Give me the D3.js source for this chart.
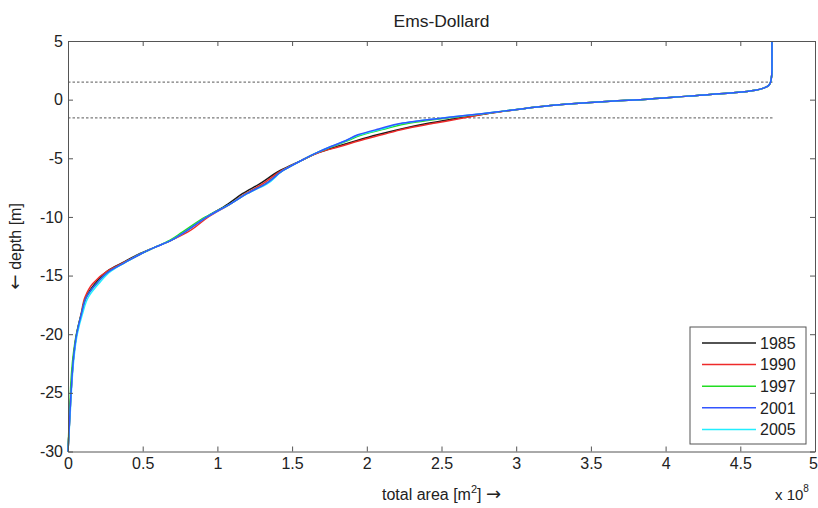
<!DOCTYPE html>
<html>
<head>
<meta charset="utf-8">
<script src="https://cdn.jsdelivr.net/npm/d3@7"></script>
<style>
  body { margin: 0; background: #fff; }
  svg { display: block; font-family: "Liberation Sans", Arial, sans-serif; }
  .axis path, .axis line { stroke: #555; }
  .axis text { fill: #222; font-size: 16px; }
  .arrow { font-family: "DejaVu Sans", sans-serif; }
</style>
</head>
<body>
<div id="chart"></div>
<script>
const years = ["1985", "1990", "1997", "2001", "2005"];
const colors = ["#1a1a1a", "#ee2a2a", "#22dd22", "#3355ff", "#22eeff"];

// depth levels [m] shared by all years
const depth = [-30, -28, -26, -24, -22, -20, -18.25, -16.8, -15.7, -14.6, -13.9, -13.2, -12.6, -12, -11.3, -10, -8.9, -8, -7.2, -6.04, -5.2, -4.5, -4, -3.5, -3, -2.5, -2, -1.5, -1.2, -1, -0.75, -0.5, -0.3, -0.1, 0, 0.3, 0.6, 0.8, 1, 1.2, 1.6, 2.5, 5];

// total area below depth, x 10^8 m2
const area1985 = [0, 0.008, 0.016, 0.025, 0.037, 0.058, 0.09, 0.122, 0.18, 0.265, 0.365, 0.47, 0.58, 0.69, 0.78, 0.93, 1.07, 1.17, 1.28, 1.42, 1.56, 1.68, 1.8, 1.93, 2.07, 2.23, 2.42, 2.65, 2.8, 2.91, 3.06, 3.23, 3.42, 3.68, 3.83, 4.15, 4.47, 4.6, 4.66, 4.69, 4.705, 4.712, 4.712];
const area1990 = [0, 0.008, 0.016, 0.025, 0.037, 0.058, 0.088, 0.115, 0.165, 0.265, 0.37, 0.48, 0.58, 0.69, 0.8, 0.94, 1.085, 1.19, 1.3, 1.43, 1.56, 1.68, 1.82, 1.95, 2.1, 2.25, 2.46, 2.67, 2.8, 2.91, 3.06, 3.23, 3.42, 3.68, 3.83, 4.15, 4.47, 4.6, 4.66, 4.69, 4.705, 4.712, 4.712];
const area1997 = [0, 0.006, 0.013, 0.02, 0.033, 0.056, 0.09, 0.125, 0.19, 0.28, 0.38, 0.48, 0.58, 0.68, 0.765, 0.92, 1.085, 1.2, 1.32, 1.44, 1.56, 1.67, 1.77, 1.87, 1.97, 2.12, 2.29, 2.58, 2.78, 2.9, 3.06, 3.23, 3.42, 3.68, 3.83, 4.15, 4.47, 4.6, 4.66, 4.69, 4.705, 4.712, 4.712];
const area2001 = [0, 0.008, 0.016, 0.025, 0.037, 0.058, 0.09, 0.125, 0.19, 0.28, 0.38, 0.48, 0.58, 0.69, 0.78, 0.93, 1.085, 1.2, 1.32, 1.44, 1.56, 1.67, 1.76, 1.857, 1.94, 2.08, 2.24, 2.55, 2.77, 2.9, 3.06, 3.23, 3.42, 3.68, 3.83, 4.15, 4.47, 4.6, 4.66, 4.69, 4.705, 4.712, 4.712];
const area2005 = [0, 0.009, 0.018, 0.027, 0.04, 0.062, 0.097, 0.138, 0.205, 0.29, 0.38, 0.48, 0.58, 0.69, 0.78, 0.93, 1.085, 1.2, 1.33, 1.44, 1.56, 1.67, 1.76, 1.86, 1.95, 2.1, 2.25, 2.55, 2.77, 2.9, 3.06, 3.23, 3.42, 3.68, 3.83, 4.15, 4.47, 4.6, 4.66, 4.69, 4.705, 4.712, 4.712];
const areas = [area1985, area1990, area1997, area2001, area2005];

// drawing order: blue ends up on top, like the reference
const drawOrder = [0, 1, 2, 4, 3];

// dashed reference levels [m] and how far they run
const refLevels = [1.5, -1.55];
const refEnd = 4.72;

const xTicks = [0, 0.5, 1, 1.5, 2, 2.5, 3, 3.5, 4, 4.5, 5];
const yTicks = [5, 0, -5, -10, -15, -20, -25, -30];

const w = 818, h = 508;
const mLeft = 68, mRight = 815, mTop = 41, mBottom = 451.5;

const x = d3.scaleLinear().domain([0, 5]).range([mLeft, mRight]);
const y = d3.scaleLinear().domain([-30, 5]).range([mBottom, mTop]);

const svg = d3.select("#chart").append("svg")
  .attr("width", w)
  .attr("height", h);

// reference lines
svg.selectAll(".ref")
  .data(refLevels)
  .enter()
  .append("line")
  .attr("class", "ref")
  .attr("x1", x(0))
  .attr("x2", x(refEnd))
  .attr("y1", d => y(d))
  .attr("y2", d => y(d))
  .attr("stroke", "#7a7a7a")
  .attr("stroke-width", 1.3)
  .attr("stroke-dasharray", "2.5,2");

// curves, drawn from top of the profile downward
const line = d3.line()
  .x(d => x(d[0]))
  .y(d => y(d[1]))
  .curve(d3.curveMonotoneY);

drawOrder.forEach(i => {
  const pts = areas[i].map((a, j) => [a, depth[j]]).reverse();
  svg.append("path")
    .datum(pts)
    .attr("fill", "none")
    .attr("stroke", colors[i])
    .attr("stroke-width", 1.5)
    .attr("d", line);
});

// axes, matlab style: ticks inward on all four sides
const xAxisG = svg.append("g")
  .attr("class", "axis")
  .attr("transform", `translate(0, ${mBottom})`)
  .call(d3.axisBottom(x).tickValues(xTicks).tickFormat(d => String(d)).tickSizeInner(-5).tickSizeOuter(0).tickPadding(6));

// last label sits on the window edge, nudge it in a little
xAxisG.selectAll(".tick text").filter(d => d === 5).attr("dx", -2);

svg.append("g")
  .attr("class", "axis")
  .attr("transform", `translate(0, ${mTop})`)
  .call(d3.axisTop(x).tickValues(xTicks).tickFormat("").tickSizeInner(-5).tickSizeOuter(0));

svg.append("g")
  .attr("class", "axis")
  .attr("transform", `translate(${mLeft}, 0)`)
  .call(d3.axisLeft(y).tickValues(yTicks).tickFormat(d => String(d)).tickSizeInner(-5).tickSizeOuter(0).tickPadding(5));

svg.append("g")
  .attr("class", "axis")
  .attr("transform", `translate(${mRight}, 0)`)
  .call(d3.axisRight(y).tickValues(yTicks).tickFormat("").tickSizeInner(-5).tickSizeOuter(0));

// title and labels
svg.append("text")
  .attr("x", (mLeft + mRight) / 2)
  .attr("y", 27)
  .attr("text-anchor", "middle")
  .attr("font-size", 16)
  .attr("textLength", 96)
  .attr("lengthAdjust", "spacingAndGlyphs")
  .attr("fill", "#222")
  .text("Ems-Dollard");

const xl = svg.append("text")
  .attr("x", (mLeft + mRight) / 2)
  .attr("y", 500)
  .attr("text-anchor", "middle")
  .attr("font-size", 16)
  .attr("fill", "#222");
xl.append("tspan").text("total area [m");
xl.append("tspan").attr("dy", -7).attr("font-size", 11).text("2");
xl.append("tspan").attr("dy", 7).text("] ");
xl.append("tspan").attr("class", "arrow").attr("font-size", 18).text("\u2192");

const ex = svg.append("text")
  .attr("x", 775)
  .attr("y", 500)
  .attr("font-size", 15)
  .attr("fill", "#222");
ex.append("tspan").text("x 10");
ex.append("tspan").attr("dy", -8).attr("font-size", 10).text("8");

const yl = svg.append("text")
  .attr("transform", `translate(21, ${(mTop + mBottom) / 2}) rotate(-90)`)
  .attr("text-anchor", "middle")
  .attr("font-size", 16)
  .attr("fill", "#222");
yl.append("tspan").attr("class", "arrow").attr("font-size", 18).text("\u2190");
yl.append("tspan").text(" depth [m]");

// legend
const legend = svg.append("g")
  .attr("transform", "translate(690, 327)");

legend.append("rect")
  .attr("width", 116)
  .attr("height", 117)
  .attr("fill", "#fff")
  .attr("stroke", "#555")
  .attr("stroke-width", 1);

years.forEach((yr, i) => {
  const ly = 16 + i * 21.6;
  legend.append("line")
    .attr("x1", 12)
    .attr("x2", 66)
    .attr("y1", ly)
    .attr("y2", ly)
    .attr("stroke", colors[i])
    .attr("stroke-width", 1.5);
  legend.append("text")
    .attr("x", 70)
    .attr("y", ly)
    .attr("dy", "0.36em")
    .attr("font-size", 16)
    .attr("fill", "#222")
    .text(yr);
});
</script>
</body>
</html>
